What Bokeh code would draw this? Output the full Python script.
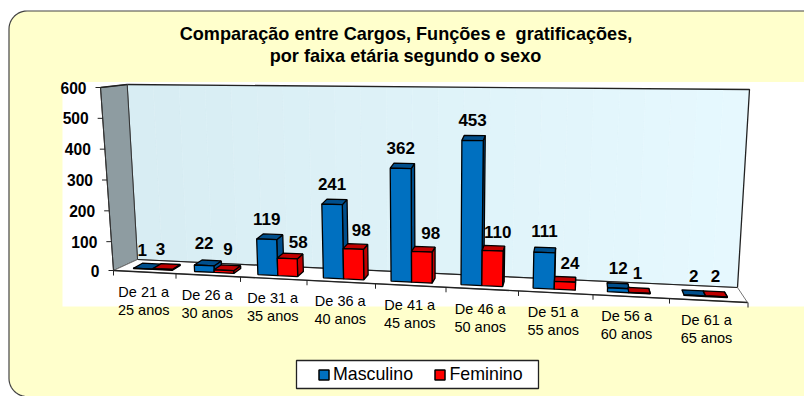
from bokeh.plotting import figure
from bokeh.embed import file_html
from bokeh.resources import INLINE
from bokeh.core.properties import value
import math

# ---- data ----
categories = ["De 21 a\n25 anos", "De 26 a\n30 anos", "De 31 a\n35 anos", "De 36 a\n40 anos",
              "De 41 a\n45 anos", "De 46 a\n50 anos", "De 51 a\n55 anos", "De 56 a\n60 anos",
              "De 61 a\n65 anos"]
masculino = [1, 22, 119, 241, 362, 453, 111, 12, 2]
feminino = [3, 9, 58, 98, 98, 110, 24, 1, 2]
y_ticks = [0, 100, 200, 300, 400, 500, 600]
title_lines = ["Comparação entre Cargos, Funções e \u00a0gratificações,", "por faixa etária segundo o sexo"]

W, H = 804, 396
FONT = value("Liberation Sans")
p = figure(width=W, height=H, x_range=(0, W), y_range=(H, 0), toolbar_location=None,
           output_backend="svg", min_border=0, outline_line_color=None, background_fill_color="white",
           border_fill_color="white")
p.axis.visible = False
p.grid.visible = False

# ---- scales of the perspective chart ----
def bound(i): return 113 + 61.5 * i + i * i          # category boundary on the floor's front edge
def floor_y(x): return 270 + (x - 113) * 0.0505
def bar_left(i): return 133 + 60 * i + 1.1 * i * i
def bar_w(i): return 19.3 + 0.3 * i
def base(x): return 268 + (x - 133) * 0.049
def scale(x): return 0.30 + (x - 258) * 0.00009
def lean(x, h): return x - (430 - x) * 0.0002 * h
def depth_dx(x): return (580 - x) * 0.02
DEPTH_DY = -5

def val_y(v):
    return 270 - 183 * (v / 600) + (2 if 0 < v else 0) * (1 - v / 600)
def val_x(v): return 113 - 13 * v / 600

def poly(xs, ys, fill, line="black", w=1.3):
    p.patch(xs, ys, fill_color=fill, line_color=line, line_width=w)

# ---- background ----
r = 18
L, T, B, R = 8.5, 10.5, 396, 830
arc = lambda cx, cy, a0, a1: [(cx + r * math.cos(math.radians(a0 + (a1 - a0) * k / 12)),
                               cy + r * math.sin(math.radians(a0 + (a1 - a0) * k / 12))) for k in range(13)]
pts = arc(L + r, T + r, 180, 270) + [(R, T), (R, B)] + arc(L + r, B - r, 90, 180)
p.patch([q[0] for q in pts], [q[1] for q in pts], fill_color="#ffffcc", line_color="#444444", line_width=1.2)
p.quad(left=[62], right=[830], top=[81.5], bottom=[306], fill_color="white", line_color=None)

# ---- walls and floor ----
TL, BL, FL = (126.7, 84), (137, 259), (113, 270)
TR, BR, FR = (749, 89), (737, 287), (747, 302)
AX = (100, 87)
STEPS = 24
c0, c1 = (216, 237, 243), (231, 249, 255)
for k in range(STEPS):
    a, b = k / STEPS, (k + 1) / STEPS
    top = lambda t: (TL[0] + (TR[0] - TL[0]) * t, TL[1] + (TR[1] - TL[1]) * t)
    bot = lambda t: (BL[0] + (BR[0] - BL[0]) * t, BL[1] + (BR[1] - BL[1]) * t)
    col = tuple(int(c0[j] + (c1[j] - c0[j]) * a) for j in range(3))
    hexc = "#%02x%02x%02x" % col
    p.patch([top(a)[0], top(b)[0], bot(b)[0], bot(a)[0]], [top(a)[1], top(b)[1], bot(b)[1], bot(a)[1]],
            fill_color=hexc, line_color=hexc, line_width=0.5)
p.line([TL[0], TR[0], BR[0]], [TL[1], TR[1], BR[1]], line_color="#222222", line_width=1.3)
p.line([TL[0], BL[0]], [TL[1], BL[1]], line_color="#333333", line_width=0.8)
poly([AX[0], TL[0], BL[0], FL[0]], [AX[1], TL[1], BL[1], FL[1]], "#8e9ca1", "#333333", 1)
p.line([AX[0], TL[0]], [AX[1], TL[1]], line_color="#222222", line_width=1.3)
poly([FL[0], BL[0], BR[0], FR[0]], [FL[1], BL[1], BR[1], FR[1]], "white", "#777777", 1)
p.line([BL[0], BR[0]], [BL[1], BR[1]], line_color="#222222", line_width=1.2)
p.line([FL[0], FR[0]], [FL[1], FR[1]], line_color="#222222", line_width=1.4)

# ---- axes ----
p.line([val_x(600), val_x(0)], [val_y(600), val_y(0)], line_color="#333333", line_width=1)
p.segment([val_x(v) - 5 for v in y_ticks], [val_y(v) for v in y_ticks],
          [val_x(v) for v in y_ticks], [val_y(v) for v in y_ticks], line_color="#222222", line_width=1)
p.text([val_x(v) - 14 for v in y_ticks], [val_y(v) for v in y_ticks], text=[str(v) for v in y_ticks],
       text_align="right", text_baseline="middle", text_font=FONT, text_font_style="bold",
       text_font_size="15.6px", text_color="black")
n = len(categories)
bx = [bound(i) for i in range(n + 1)]
p.segment(bx, [floor_y(x) for x in bx], bx, [floor_y(x) + 5 for x in bx], line_color="#222222", line_width=1)

# ---- bars ----
def bar(xl, xr, v, front, dark):
    hl, hr = v * scale(xl), v * scale(xr)
    b0, b1 = base(xl), base(xr)
    x0t, x1t = lean(xl, hl), lean(xr, hr)
    t0, t1 = b0 - hl, b1 - hr
    d0, d1 = depth_dx(xl), depth_dx(xr)
    poly([xr, x1t, x1t + d1, xr + d1], [b1, t1, t1 + DEPTH_DY, b1 + DEPTH_DY], dark)
    poly([x0t, x1t, x1t + d1, x0t + d0], [t0, t1, t1 + DEPTH_DY, t0 + DEPTH_DY], dark)
    poly([xl, xr, x1t, x0t], [b0, b1, t1, t0], front)
    return (x0t + x1t) / 2, (t0 + t1) / 2

fem_dx = [-2, 4, 11, 8, 9, 5, 5, -2, -1]
fem_dy = [-20, -21, -17, -19, -19, -19, -19, -20, -20]
mas_dy = [-19, -22, -20, -20, -20, -20, -21, -20, -19]
mas_dx = [-1, 0, 0, 0, 0, 0, 0, 0, -1]
lx, ly, lt = [], [], []
for i in range(n):
    x0, w = bar_left(i), bar_w(i)
    cx, ty = bar(x0, x0 + w, masculino[i], "#0070c0", "#004f8c")
    lx.append(cx + mas_dx[i]); ly.append(ty + mas_dy[i]); lt.append(str(masculino[i]))
    cx, ty = bar(x0 + w, x0 + 2 * w, feminino[i], "#ff0000", "#c00000")
    lx.append(cx + fem_dx[i]); ly.append(ty + fem_dy[i]); lt.append(str(feminino[i]))
p.text(lx, ly, text=lt, text_align="center", text_baseline="middle", text_font=FONT,
       text_font_style="bold", text_font_size="17px", text_color="black")

# ---- category labels ----
cat_dx = [-1, -1, -1, -1, -1, -2, -2.5, -4.7, -2.25]
cat_x = [(bound(i) + bound(i + 1)) / 2 + cat_dx[i] for i in range(n)]
cat1, cat2 = zip(*[c.split("\n") for c in categories])
cat_y = [floor_y(x) + 19.5 for x in cat_x]
p.text(cat_x, cat_y, text=list(cat1), text_align="center", text_baseline="middle", text_font=FONT,
       text_font_size="14.5px", text_color="black")
p.text(cat_x, [y + 18 for y in cat_y], text=list(cat2), text_align="center", text_baseline="middle",
       text_font=FONT, text_font_size="14.5px", text_color="black")

# ---- title ----
p.text([405.5, 405], [33, 55.5], text=title_lines, text_align="center", text_baseline="middle", text_font=FONT,
       text_font_style="bold", text_font_size="18.1px", text_color="black")

# ---- legend ----
p.quad(left=[296], right=[538], top=[360], bottom=[388], fill_color="white", line_color="#222222", line_width=1.3)
leg_names = ["Masculino", "Feminino"]
leg_cols = ["#0070c0", "#ff0000"]
leg_x = [318.5, 434.5]
p.quad(left=leg_x, right=[x + 10 for x in leg_x], top=[369.5, 369.5], bottom=[379.5, 379.5], fill_color=leg_cols,
       line_color="black", line_width=1.5)
p.text([332.5, 449], [373.5, 373.5], text=leg_names, text_align="left", text_baseline="middle", text_font=FONT,
       text_font_size="17.8px", text_color="black")

open("out.html", "w").write(file_html(p, INLINE))
